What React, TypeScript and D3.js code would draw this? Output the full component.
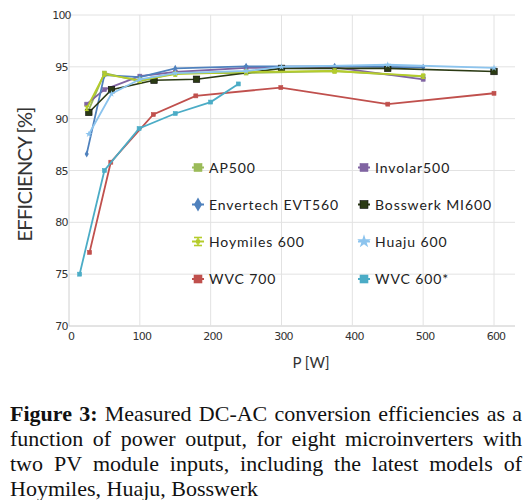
import React, { useMemo } from 'react';
import * as d3 from 'd3';

const xTicks = [0, 100, 200, 300, 400, 500, 600];
const yTicks = [70, 75, 80, 85, 90, 95, 100];

const seriesNames = ['AP500', 'Involar500', 'Envertech EVT560', 'Bosswerk MI600', 'Hoymiles 600', 'Huaju 600', 'WVC 700', 'WVC 600*'];
const seriesColors = ['#9bbb59', '#8064a2', '#4f81bd', '#2b3a14', '#b5cc2b', '#8cc4ee', '#c0504d', '#4bacc6'];
const seriesMarkers = ['square', 'square', 'diamond', 'bigsquare', 'ibeam', 'star', 'square', 'square'];

const ap500: [number, number][] = [[27, 90.7], [50, 94.4], [100, 93.6], [150, 94.4], [250, 94.4], [375, 94.6], [500, 94.05]];
const involar500: [number, number][] = [[25, 91.4], [50, 92.8], [100, 94.1], [150, 94.5], [250, 94.9], [375, 94.95], [500, 93.8]];
const envertech: [number, number][] = [[25, 86.6], [50, 94.2], [100, 94.0], [150, 94.85], [250, 95.05], [375, 95.05], [500, 94.95]];
const bosswerk: [number, number][] = [[28, 90.6], [60, 92.8], [120, 93.7], [180, 93.8], [300, 94.85], [450, 94.85], [600, 94.55]];
const hoymiles: [number, number][] = [[25, 91.0], [50, 94.3], [100, 93.7], [150, 94.3], [250, 94.5], [375, 94.6], [500, 94.1]];
const huaju: [number, number][] = [[28, 88.5], [60, 92.4], [100, 93.8], [150, 94.4], [250, 94.6], [300, 95.0], [450, 95.2], [600, 94.9]];
const wvc700: [number, number][] = [[29, 77.1], [59, 85.8], [119, 90.4], [179, 92.2], [299, 93.0], [450, 91.4], [600, 92.45]];
const wvc600: [number, number][] = [[15, 75.0], [50, 85.0], [99, 89.05], [150, 90.5], [200, 91.6], [239, 93.35]];

const seriesData = [ap500, involar500, envertech, bosswerk, hoymiles, huaju, wvc700, wvc600];

const captionLines: { text: string; bold?: boolean }[][] = [
  [{ text: 'Figure', bold: true }, { text: '3:', bold: true }, ...'Measured DC-AC conversion efficiencies as a'.split(' ').map((t) => ({ text: t }))],
  'function of power output, for eight microinverters with'.split(' ').map((t) => ({ text: t })),
  'two PV module inputs, including the latest models of'.split(' ').map((t) => ({ text: t })),
  'Hoymiles, Huaju, Bosswerk'.split(' ').map((t) => ({ text: t })),
];

function Marker({ type, color, x, y, size }: { type: string; color: string; x: number; y: number; size: number }) {
  const s = size;
  if (type === 'square' || type === 'bigsquare') {
    return <rect x={x - s / 2} y={y - s / 2} width={s} height={s} fill={color} stroke={type === 'bigsquare' ? '#111' : color} strokeWidth={0.6} />;
  }
  if (type === 'diamond') {
    const p = d3.symbol(d3.symbolDiamond, s * s * 0.9)();
    return <path d={p || ''} transform={`translate(${x},${y})`} fill={color} />;
  }
  if (type === 'star') {
    const p = d3.symbol(d3.symbolStar, s * s * 0.9)();
    return <path d={p || ''} transform={`translate(${x},${y})`} fill={color} />;
  }
  // ibeam
  const h = s / 2;
  return (
    <g stroke={color} strokeWidth={1.6} fill="none">
      <line x1={x - h} x2={x + h} y1={y - h} y2={y - h} />
      <line x1={x - h} x2={x + h} y1={y + h} y2={y + h} />
      <line x1={x} x2={x} y1={y - h} y2={y + h} />
      <rect x={x - h * 0.5} y={y - h * 0.5} width={h} height={h} fill={color} stroke="none" />
    </g>
  );
}

export default function App() {
  const x = d3.scaleLinear().domain([0, 600]).range([69, 494]);
  const y = d3.scaleLinear().domain([70, 100]).range([326, 15]);
  const plotRight = 515;
  const line = d3
    .line<[number, number]>()
    .x((d) => x(d[0]))
    .y((d) => y(d[1]));

  const caption = useMemo(() => {
    const canvas = document.createElement('canvas');
    const ctx = canvas.getContext('2d')!;
    const left = 10;
    const right = 522;
    const baselines = [421, 446, 471, 496];
    const out: { text: string; bold?: boolean; x: number; y: number }[] = [];
    captionLines.forEach((words, li) => {
      const widths = words.map((w) => {
        ctx.font = `${w.bold ? 'bold ' : ''}22px 'Liberation Serif'`;
        return ctx.measureText(w.text).width;
      });
      ctx.font = `22px 'Liberation Serif'`;
      const space = ctx.measureText(' ').width;
      const total = widths.reduce((a, b) => a + b, 0);
      const last = li === captionLines.length - 1;
      const gap = last ? space : (right - left - total) / (words.length - 1);
      let cx = left;
      words.forEach((w, i) => {
        out.push({ text: w.text, bold: w.bold, x: cx, y: baselines[li] });
        cx += widths[i] + gap;
      });
    });
    return out;
  }, []);

  const legendCols = [198, 364];
  const legendRows = [167.5, 204.5, 241.5, 279];

  return (
    <svg width={532} height={500} style={{ position: 'absolute', left: 0, top: 0, background: '#fff' }}>
      <rect x={0} y={0} width={532} height={500} fill="#fff" />
      {/* gridlines */}
      {yTicks.map((t) => (
        <line key={'gy' + t} x1={69} x2={plotRight} y1={y(t)} y2={y(t)} stroke={t === 70 ? '#c8c8c8' : '#e2e2e2'} strokeWidth={1} />
      ))}
      {xTicks.map((t) => (
        <line key={'gx' + t} x1={x(t)} x2={x(t)} y1={y(100)} y2={y(70)} stroke={t === 0 ? '#d0d0d0' : '#e2e2e2'} strokeWidth={1} />
      ))}
      {/* tick labels */}
      {yTicks.map((t) => (
        <text key={'ty' + t} x={61.5} y={y(t) + 4} textAnchor="middle" fontFamily="DejaVu Sans" fontSize={11} letterSpacing={-0.8} fill="#333">
          {t}
        </text>
      ))}
      {xTicks.map((t) => (
        <text key={'tx' + t} x={x(t) + 2} y={339.5} textAnchor="middle" fontFamily="DejaVu Sans" fontSize={11} letterSpacing={-0.8} fill="#333">
          {t}
        </text>
      ))}
      {/* axis titles */}
      <text
        transform="translate(31.5,174) rotate(-90)"
        textAnchor="middle"
        fontFamily="Lato"
        fontSize={20}
        textLength={135}
        lengthAdjust="spacing"
        fill="#333"
      >
        EFFICIENCY [%]
      </text>
      <text x={311} y={368} textAnchor="middle" fontFamily="Lato" fontSize={15} fill="#333">
        P [W]
      </text>
      {/* legend */}
      {seriesNames.map((n, i) => {
        const cx = legendCols[i % 2];
        const cy = legendRows[Math.floor(i / 2)];
        return (
          <g key={'lg' + n}>
            <line x1={cx - 6} x2={cx + 6} y1={cy} y2={cy} stroke={seriesColors[i]} strokeWidth={2} />
            <Marker type={seriesMarkers[i]} color={seriesColors[i]} x={cx} y={cy} size={seriesMarkers[i] === 'bigsquare' ? 8 : 8} />
            <text x={cx + 11} y={cy + 5} fontFamily="Lato" fontSize={14} letterSpacing={0.9} fill="#222">
              {n}
            </text>
          </g>
        );
      })}
      {/* series */}
      {seriesData.map((data, i) => (
        <g key={'s' + i}>
          <path d={line(data) || ''} fill="none" stroke={seriesColors[i]} strokeWidth={i === 3 ? 1.6 : 1.8} />
          {data.map((d, j) => (
            <Marker
              key={j}
              type={seriesMarkers[i]}
              color={seriesColors[i]}
              x={x(d[0])}
              y={y(d[1])}
              size={seriesMarkers[i] === 'bigsquare' ? 6.5 : 4}
            />
          ))}
        </g>
      ))}
      {/* caption */}
      {caption.map((w, i) => (
        <text key={'c' + i} x={w.x} y={w.y} fontFamily="Liberation Serif" fontSize={22} fontWeight={w.bold ? 'bold' : 'normal'} fill="#111">
          {w.text}
        </text>
      ))}
    </svg>
  );
}
